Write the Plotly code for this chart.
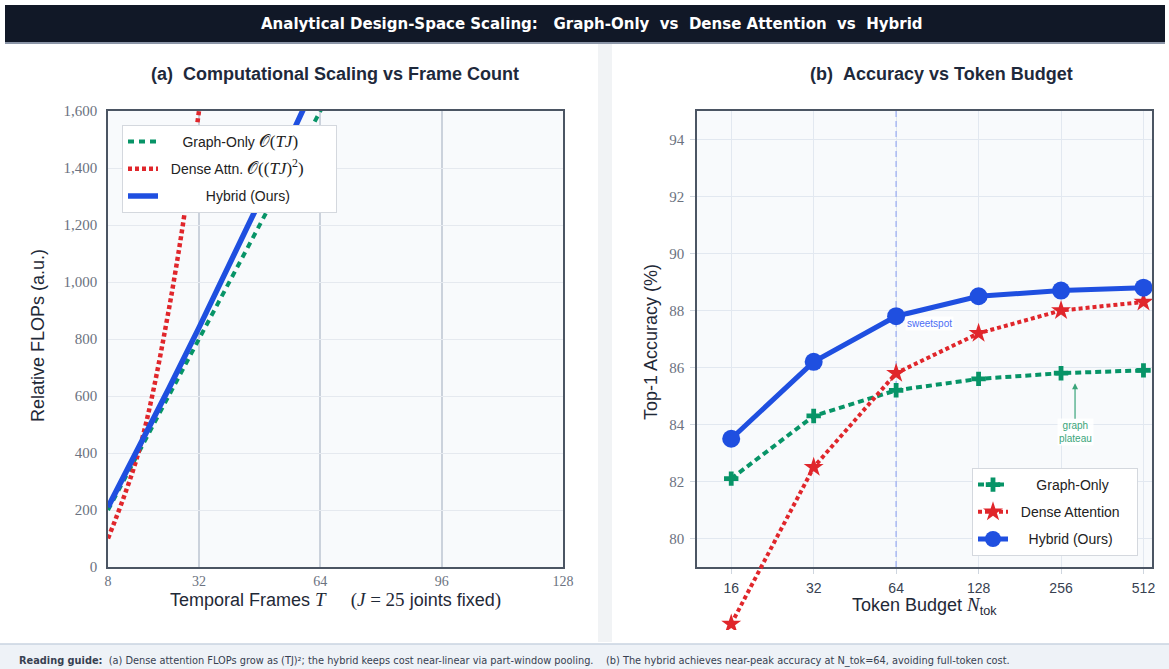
import math
import plotly.graph_objects as go

W, H = 1169, 669


def px(x):
    return x / W


def py(y):
    return 1 - y / H


# ---------------- panel (a): relative FLOPs vs temporal frames ----------------
frames = [8, 16, 24, 32, 40, 48, 56, 64, 72]
flops_graph = [200, 400, 600, 800, 1000, 1200, 1400, 1600, 1800]
frames_dense = [8, 16, 24, 32, 40]
flops_dense = [100, 400, 900, 1600, 2500]
flops_hybrid = [210, 415, 625, 840, 1060, 1280, 1505, 1735, 1970]

frame_ticks = [8, 32, 64, 96, 128]
flops_ticks = [0, 200, 400, 600, 800, 1000, 1200, 1400, 1600]

# ---------------- panel (b): top-1 accuracy vs token budget ----------------
tokens = [16, 32, 64, 128, 256, 512]
acc_graph = [82.1, 84.3, 85.2, 85.6, 85.8, 85.9]
acc_dense = [77.0, 82.5, 85.8, 87.2, 88.0, 88.3]
acc_hybrid = [83.5, 86.2, 87.8, 88.5, 88.7, 88.8]

acc_ticks = [80, 82, 84, 86, 88, 90, 92, 94]
sweet_spot = 64

GREEN = "#079467"
RED = "#e0262b"
BLUE = "#1f4fe0"
SERIF = "Liberation Serif"
SANS = "Liberation Sans"
NB = "\u00a0"

# subplot geometry (paper fractions)
XA = [px(108), px(563)]
XB = [px(697), px(1152)]
YP = [py(567), py(111)]
Y_LO, Y_HI = 79, 95
# panel (b) curves live on a taller twin frame so the low-budget point can hang below the axis
YB_EXT = [py(630), YP[1]]
ext_low = Y_LO - (YP[0] - YB_EXT[0]) * (Y_HI - Y_LO) / (YP[1] - YP[0])
XB_RANGE = [math.log10(12), math.log10(550)]


def serif(s, size=None):
    extra = f";font-size:{size}px" if size else ""
    return f'<span style="font-family:{SERIF}{extra}">{s}</span>'


fig = go.Figure()

# panel (a) traces
fig.add_trace(go.Scatter(
    x=frames, y=flops_graph, mode="lines",
    name=NB * 5 + "Graph-Only " + serif("𝒪(<i>TJ</i>)", 17) + NB,
    line=dict(color=GREEN, width=4, dash="6px,5px"),
    xaxis="x", yaxis="y", legend="legend", legendgroup="ga",
))
fig.add_trace(go.Scatter(
    x=frames_dense, y=flops_dense, mode="lines", line_shape="spline",
    name=NB * 2 + "Dense Attn. " + serif("𝒪((<i>TJ</i>)<sup>2</sup>)", 17) + NB * 7,
    line=dict(color=RED, width=4.5, dash="4px,3px"),
    xaxis="x", yaxis="y", legend="legend", legendgroup="da",
))
fig.add_trace(go.Scatter(
    x=frames, y=flops_hybrid, mode="lines",
    name=NB * 11 + "Hybrid (Ours)",
    line=dict(color=BLUE, width=5.5),
    xaxis="x", yaxis="y", legend="legend", legendgroup="ha",
))

# panel (b): sweet-spot guide, then the three curves
fig.add_trace(go.Scatter(
    x=[sweet_spot, sweet_spot], y=[Y_LO, Y_HI], mode="lines",
    line=dict(color="#a9b8f2", width=1.5, dash="6px,4px"),
    showlegend=False, hoverinfo="skip", xaxis="x3", yaxis="y3",
))
fig.add_trace(go.Scatter(
    x=tokens, y=acc_graph, mode="lines+markers",
    name=NB * 6 + "Graph-Only",
    line=dict(color=GREEN, width=4, dash="6px,4px"),
    marker=dict(symbol="cross", size=12, color=GREEN),
    xaxis="x3", yaxis="y3", legend="legend2", legendgroup="gb",
))
fig.add_trace(go.Scatter(
    x=tokens, y=acc_dense, mode="lines+markers",
    name=NB * 2 + "Dense Attention" + NB * 3,
    line=dict(color=RED, width=4, dash="4px,3px"),
    marker=dict(symbol="star", size=15, color=RED),
    xaxis="x3", yaxis="y3", legend="legend2", legendgroup="db",
))
fig.add_trace(go.Scatter(
    x=tokens, y=acc_hybrid, mode="lines+markers",
    name=NB * 4 + "Hybrid (Ours)",
    line=dict(color=BLUE, width=5),
    marker=dict(symbol="circle", size=18, color=BLUE),
    xaxis="x3", yaxis="y3", legend="legend2", legendgroup="hb",
))

frame_axis = dict(showline=True, mirror=True, linecolor="#4b5563", linewidth=1.5,
                  zeroline=False, fixedrange=True, automargin=False)

legend_style = dict(
    xanchor="left", yanchor="top", bgcolor="white",
    bordercolor="#d4d8de", borderwidth=1,
    font=dict(family=SANS, size=14, color="#222222"),
    tracegroupgap=6, traceorder="grouped",
)

shapes = [
    # gap between the two cards
    dict(type="rect", xref="paper", yref="paper", x0=px(598), x1=px(612), y0=py(642), y1=py(44),
         fillcolor="#f1f3f5", line=dict(width=0), layer="below"),
    # header bar
    dict(type="rect", xref="paper", yref="paper", x0=px(5), x1=px(1165), y0=py(42), y1=py(5),
         fillcolor="#111827", line=dict(width=0), layer="below"),
    dict(type="line", xref="paper", yref="paper", x0=px(5), x1=px(1165), y0=py(43), y1=py(43),
         line=dict(color="#8b95a7", width=2), layer="below"),
    # footer bar
    dict(type="rect", xref="paper", yref="paper", x0=0, x1=1, y0=0, y1=py(644),
         fillcolor="#eef2f7", line=dict(width=0), layer="below"),
    dict(type="line", xref="paper", yref="paper", x0=0, x1=1, y0=py(644), y1=py(644),
         line=dict(color="#c9d3e0", width=1.5), layer="below"),
    # plot-area backgrounds
    dict(type="rect", xref="paper", yref="paper", x0=XA[0], x1=XA[1], y0=YP[0], y1=YP[1],
         fillcolor="#f8fafc", line=dict(width=0), layer="below"),
    dict(type="rect", xref="paper", yref="paper", x0=XB[0], x1=XB[1], y0=YP[0], y1=YP[1],
         fillcolor="#f8fafc", line=dict(width=0), layer="below"),
]


def label(text, x, y, size, family=SANS, color="#1f2937", **kw):
    return dict(text=text, xref="paper", yref="paper", x=px(x), y=py(y),
                xanchor="center", yanchor="middle", showarrow=False,
                font=dict(family=family, size=size, color=color), **kw)


annotations = [
    label("<b>Analytical Design-Space Scaling:" + NB * 3 + "Graph-Only" + NB * 2 + "vs" + NB * 2
          + "Dense Attention" + NB * 2 + "vs" + NB * 2 + "Hybrid</b>",
          592, 24, 15, family="DejaVu Sans", color="white"),
    label("<b>(a)" + NB * 2 + "Computational Scaling vs Frame Count</b>", 335, 74, 18, color="#1e293b"),
    label("<b>(b)" + NB * 2 + "Accuracy vs Token Budget</b>", 941, 74, 18, color="#1e293b"),
    label("Relative FLOPs (a.u.)", 38, 336, 18, textangle=-90),
    label("Temporal Frames " + serif("<i>T</i>", 19) + NB * 5 + serif("(<i>J</i> = 25", 19)
          + " joints fixed" + serif(")", 19), 335, 600, 18),
    label("Top-1 Accuracy (%)", 651, 342, 18, textangle=-90),
    label("Token Budget " + serif("<i>N</i>", 19) + "<sub>tok</sub>", 924, 606, 18),
    dict(text="sweetspot", xref="x2", yref="y2", x=math.log10(sweet_spot), y=87.55,
         xanchor="left", yanchor="middle", xshift=9, showarrow=False,
         bgcolor="rgba(255,255,255,0.85)",
         font=dict(family=SANS, size=10, color="#4c6ef5")),
    dict(text="graph<br>plateau", xref="x2", yref="y2", x=math.log10(288), y=85.45,
         showarrow=True, ax=0, ay=49, arrowhead=2, arrowsize=1, arrowwidth=1.2,
         arrowcolor="#3aa57a", bgcolor="rgba(255,255,255,0.85)",
         font=dict(family=SANS, size=10, color="#3aa57a")),
    dict(text="<b>Reading guide:</b>" + NB * 2
              + "(a) Dense attention FLOPs grow as (TJ)²; the hybrid keeps cost near-linear via part-window pooling."
              + NB * 4 + "(b) The hybrid achieves near-peak accuracy at N_tok=64, avoiding full-token cost.",
         xref="paper", yref="paper", x=px(17), y=py(661), xanchor="left", yanchor="middle",
         showarrow=False, font=dict(family="DejaVu Sans", size=9.8, color="#374151")),
]

fig.update_layout(
    width=W, height=H, autosize=False,
    margin=dict(l=0, r=0, t=0, b=0, pad=0, autoexpand=False),
    paper_bgcolor="white", plot_bgcolor="rgba(0,0,0,0)",
    showlegend=True,
    xaxis=dict(domain=XA, anchor="y", range=[8, 128], tickvals=frame_ticks,
               showgrid=True, gridcolor="#cbd2dc", gridwidth=1.5, ticks="",
               tickfont=dict(family=SERIF, size=14, color="#6b7280"), ticklabelstandoff=0,
               **frame_axis),
    yaxis=dict(domain=YP, anchor="x", range=[0, 1600], tickvals=flops_ticks, tickformat=",",
               showgrid=True, gridcolor="#e5e9ef", gridwidth=1, ticks="",
               tickfont=dict(family=SERIF, size=15, color="#6b7280"), ticklabelstandoff=6,
               **frame_axis),
    xaxis2=dict(domain=XB, anchor="y2", type="log", range=XB_RANGE,
                tickvals=tokens, ticktext=[str(t) for t in tokens],
                showgrid=True, gridcolor="#e2e8f0", gridwidth=1,
                ticks="outside", ticklen=5, tickcolor="#cfd6df",
                tickfont=dict(family=SANS, size=14, color="#374151"), ticklabelstandoff=2,
                **frame_axis),
    yaxis2=dict(domain=YP, anchor="x2", range=[Y_LO, Y_HI], tickvals=acc_ticks,
                showgrid=True, gridcolor="#e2e8f0", gridwidth=1,
                ticks="outside", ticklen=5, tickcolor="#cfd6df",
                tickfont=dict(family=SERIF, size=15, color="#6b7280"), ticklabelstandoff=3,
                **frame_axis),
    xaxis3=dict(domain=XB, anchor="y3", type="log", range=XB_RANGE, visible=False,
                fixedrange=True, automargin=False),
    yaxis3=dict(domain=YB_EXT, anchor="x3", range=[ext_low, Y_HI], visible=False,
                fixedrange=True, automargin=False),
    legend=dict(x=px(122), y=py(125), **legend_style),
    legend2=dict(x=px(972), y=py(468), **legend_style),
    shapes=shapes,
    annotations=annotations,
)

fig.write_html("out.html")
